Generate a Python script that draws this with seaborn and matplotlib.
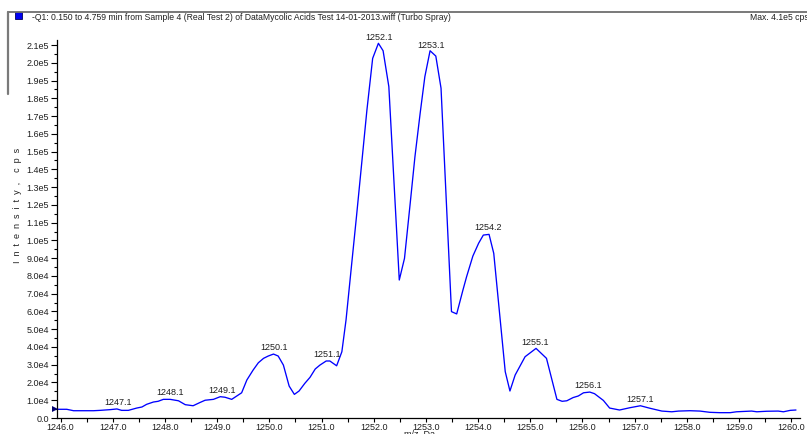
import numpy as np
import pandas as pd
import matplotlib
matplotlib.use("Agg")
import matplotlib.pyplot as plt
from matplotlib.lines import Line2D
from matplotlib.patches import Rectangle
from matplotlib.ticker import MultipleLocator, FuncFormatter
import seaborn as sns

# Profile spectrum (m/z in Da, intensity in cps)
mz = [1245.89, 1246.12, 1246.25, 1246.44, 1246.63, 1246.76, 1246.95, 1247.08, 1247.17, 1247.30,
      1247.46, 1247.56, 1247.65, 1247.78, 1247.87, 1247.97, 1248.10, 1248.26, 1248.39, 1248.54,
      1248.67, 1248.77, 1248.93, 1249.06, 1249.15, 1249.28, 1249.47, 1249.57, 1249.69, 1249.79,
      1249.89, 1249.98, 1250.08, 1250.17, 1250.27, 1250.38, 1250.48, 1250.57, 1250.68, 1250.78,
      1250.88, 1250.97, 1251.09, 1251.16, 1251.29, 1251.39, 1251.47, 1251.58, 1251.67, 1251.77,
      1251.87, 1251.98, 1252.09, 1252.18, 1252.29, 1252.49, 1252.59, 1252.70, 1252.79, 1252.89,
      1252.98, 1253.08, 1253.19, 1253.29, 1253.49, 1253.59, 1253.71, 1253.78, 1253.90, 1254.01,
      1254.10, 1254.21, 1254.30, 1254.52, 1254.61, 1254.71, 1254.90, 1255.11, 1255.31, 1255.51,
      1255.61, 1255.70, 1255.82, 1255.92, 1256.02, 1256.14, 1256.23, 1256.40, 1256.52, 1256.71,
      1256.91, 1257.11, 1257.29, 1257.52, 1257.71, 1257.84, 1258.06, 1258.25, 1258.44, 1258.63,
      1258.83, 1258.95, 1259.24, 1259.34, 1259.53, 1259.75, 1259.85, 1259.98, 1260.09]
intensity = [4900, 4900, 4100, 4100, 4100, 4300, 4700, 5100, 4300, 4300,
             5600, 6200, 7700, 9000, 9400, 10500, 10500, 9700, 7500, 6900,
             8700, 10000, 10500, 12000, 11700, 10500, 14200, 21400, 27000, 31100,
             33600, 34900, 36000, 34900, 29800, 18000, 13300, 15200, 19500, 22900,
             27600, 29800, 32100, 32100, 29400, 37300, 55200, 87300, 113400, 143400,
             173400, 202500, 211000, 206800, 186600, 77700, 89900, 121100, 147100, 171600,
             192200, 206800, 203800, 185700, 59900, 58600, 72100, 79600, 91200, 98400,
             103000, 103400, 92700, 26100, 15200, 24200, 34500, 39200, 33600, 10500,
             9400, 9700, 11500, 12400, 14200, 14600, 13700, 9900, 5600, 4500,
             5800, 6900, 5500, 3900, 3500, 3900, 4100, 3900, 3200, 3000,
             3000, 3500, 3900, 3500, 3800, 3900, 3500, 4300, 4500]

# Centroid labels
peak_mz = [1247.1, 1248.1, 1249.1, 1250.1, 1251.1, 1252.1, 1253.1, 1254.2, 1255.1, 1256.1, 1257.1]

title_text = ("-Q1: 0.150 to 4.759 min from Sample 4 (Real Test 2) of DataMycolic Acids "
              "Test 14-01-2013.wiff (Turbo Spray)")
max_text = "Max. 4.1e5 cps"

sns.set_style("white")
plt.rcParams["font.family"] = ["Liberation Sans", "DejaVu Sans"]
FS = 6.5
TXT = "#202020"

W, H = 807, 434
fig = plt.figure(figsize=(W / 100, H / 100), dpi=100)
fig.patch.set_facecolor("white")

def fx(px):
    return px / W

def fy(py):
    return 1 - py / H

ax = fig.add_axes([fx(56.7), fy(418), fx(800) - fx(56.7), fy(40) - fy(418)])
ax.set_facecolor("white")

df = pd.DataFrame({"mz": mz, "intensity": intensity})
sns.lineplot(data=df, x="mz", y="intensity", ax=ax, color="#0000FF",
             linewidth=0.95, sort=False, estimator=None)
ax.plot(mz[0], intensity[0], marker=">", color="#000070", ms=4, mew=0,
        clip_on=False, zorder=5)

for p in peak_mz:
    yv = float(np.interp(p, mz, intensity))
    ax.annotate(f"{p:.1f}", xy=(p, yv), xytext=(0, 1.5), textcoords="offset points",
                ha="center", va="bottom", fontsize=FS, color=TXT)

ax.set_xlim(1245.927, 1260.167)
ax.set_ylim(0, 212850)

ax.xaxis.set_major_locator(MultipleLocator(1.0))
ax.xaxis.set_minor_locator(MultipleLocator(0.5))
ax.yaxis.set_major_locator(MultipleLocator(10000))
ax.yaxis.set_minor_locator(MultipleLocator(5000))
ax.xaxis.set_major_formatter(FuncFormatter(lambda v, p: f"{v:.1f}"))

def sci(v, p):
    if abs(v) < 1e-9:
        return "0.0"
    e = int(np.floor(np.log10(abs(v)) + 1e-9))
    m = v / 10 ** e
    return f"{m:.1f}e{e}"

ax.yaxis.set_major_formatter(FuncFormatter(sci))
ax.tick_params(axis="both", which="both", direction="out", colors="black",
               labelcolor=TXT, labelsize=FS, width=0.8)
ax.tick_params(axis="y", which="major", length=4, pad=1.5, left=True)
ax.tick_params(axis="y", which="minor", length=2, left=True)
ax.tick_params(axis="x", which="major", length=3, pad=0.5, bottom=True)
ax.tick_params(axis="x", which="minor", length=3, bottom=True)

for s in ["top", "right"]:
    ax.spines[s].set_visible(False)
for s in ["left", "bottom"]:
    ax.spines[s].set_color("black")
    ax.spines[s].set_linewidth(0.9)

ax.set_xlabel("")
ax.set_ylabel("")
fig.text(fx(420), fy(430), "m/z, Da", ha="center", va="top", fontsize=FS, color=TXT)
fig.text(fx(18), fy(205), "I  n  t  e  n  s  i  t  y  ,    c  p  s", rotation=90,
         ha="center", va="center", fontsize=FS, color=TXT)

# Header: frame lines, legend swatch, title and max intensity
fig.add_artist(Line2D([fx(7.5), 1.0], [fy(11.5), fy(11.5)], color="#6e6e6e", lw=1.3))
fig.add_artist(Line2D([fx(8), fx(8)], [fy(11.5), fy(94)], color="#7a7a7a", lw=1.6))
fig.add_artist(Rectangle((fx(15), fy(18.5)), fx(7), fy(12) - fy(18.5),
                         facecolor="#0000F0", edgecolor="#000060", lw=0.6))
fig.text(fx(31.5), fy(17), title_text, ha="left", va="center", fontsize=6.2, color=TXT)
fig.text(fx(750), fy(17), max_text, ha="left", va="center", fontsize=6.2, color=TXT)

fig.savefig("out.png", dpi=100, facecolor="white")
